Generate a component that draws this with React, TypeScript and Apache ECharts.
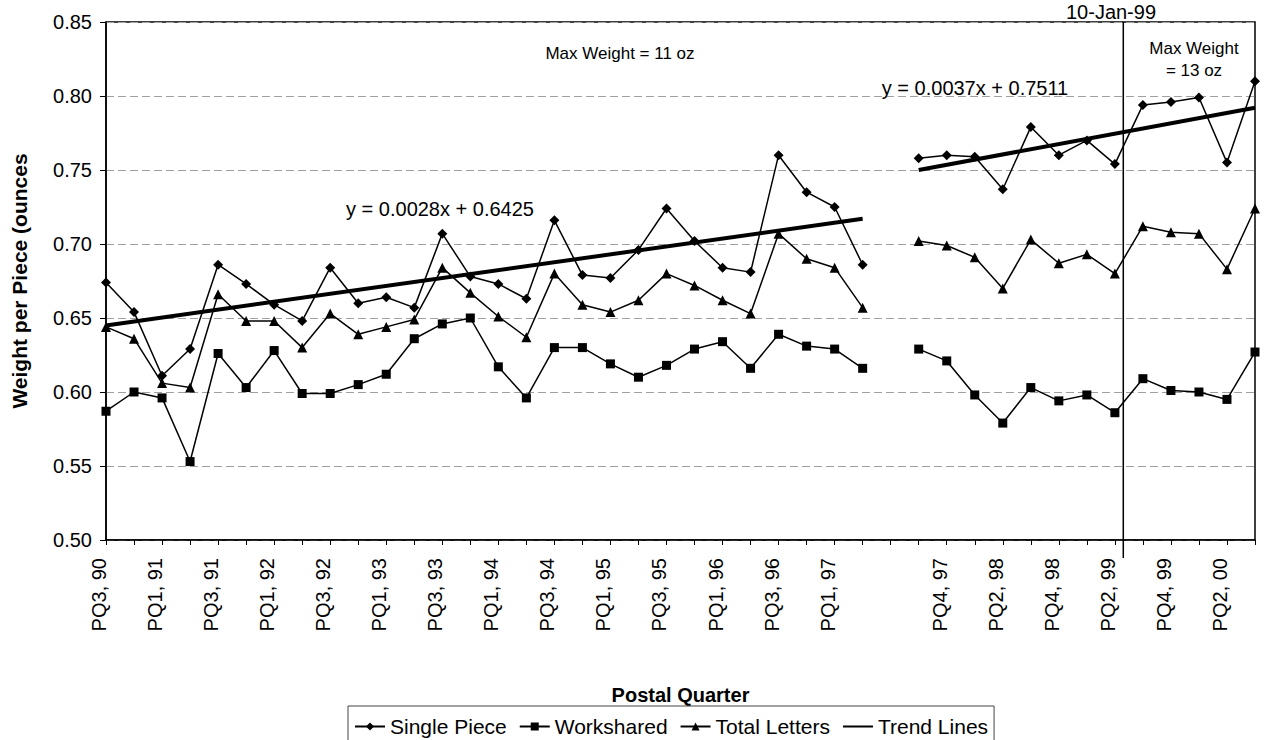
import { useEffect, useRef } from "react";
import * as echarts from "echarts";

const quarters = [
  "PQ3, 90", "PQ4, 90",
  "PQ1, 91", "PQ2, 91", "PQ3, 91", "PQ4, 91",
  "PQ1, 92", "PQ2, 92", "PQ3, 92", "PQ4, 92",
  "PQ1, 93", "PQ2, 93", "PQ3, 93", "PQ4, 93",
  "PQ1, 94", "PQ2, 94", "PQ3, 94", "PQ4, 94",
  "PQ1, 95", "PQ2, 95", "PQ3, 95", "PQ4, 95",
  "PQ1, 96", "PQ2, 96", "PQ3, 96", "PQ4, 96",
  "PQ1, 97", "PQ2, 97", "",
  "PQ3, 97", "PQ4, 97",
  "PQ1, 98", "PQ2, 98", "PQ3, 98", "PQ4, 98",
  "PQ1, 99", "PQ2, 99", "PQ3, 99", "PQ4, 99",
  "PQ1, 00", "PQ2, 00", "PQ3, 00",
];

const singlePiece = [
  0.674, 0.654, 0.611, 0.629, 0.686, 0.673, 0.659, 0.648, 0.684, 0.660,
  0.664, 0.657, 0.707, 0.678, 0.673, 0.663, 0.716, 0.679, 0.677, 0.696,
  0.724, 0.702, 0.684, 0.681, 0.760, 0.735, 0.725, 0.686, null,
  0.758, 0.760, 0.759, 0.737, 0.779, 0.760, 0.770, 0.754, 0.794, 0.796,
  0.799, 0.755, 0.810,
];

const workshared = [
  0.587, 0.600, 0.596, 0.553, 0.626, 0.603, 0.628, 0.599, 0.599, 0.605,
  0.612, 0.636, 0.646, 0.650, 0.617, 0.596, 0.630, 0.630, 0.619, 0.610,
  0.618, 0.629, 0.634, 0.616, 0.639, 0.631, 0.629, 0.616, null,
  0.629, 0.621, 0.598, 0.579, 0.603, 0.594, 0.598, 0.586, 0.609, 0.601,
  0.600, 0.595, 0.627,
];

const totalLetters = [
  0.644, 0.636, 0.606, 0.603, 0.666, 0.648, 0.648, 0.630, 0.653, 0.639,
  0.644, 0.649, 0.684, 0.667, 0.651, 0.637, 0.680, 0.659, 0.654, 0.662,
  0.680, 0.672, 0.662, 0.653, 0.707, 0.690, 0.684, 0.657, null,
  0.702, 0.699, 0.691, 0.670, 0.703, 0.687, 0.693, 0.680, 0.712, 0.708,
  0.707, 0.683, 0.724,
];

// trend line end points [category index, value]
const trendEarly = [[0, 0.645], [27, 0.717]];
const trendLate = [[29, 0.750], [41, 0.792]];

const yTicks = { min: 0.5, max: 0.85, interval: 0.05 };
const changeIndex = 36.3; // 10-Jan-99 falls about a third of the way from PQ2, 99 to PQ3, 99

const FONT = "'Liberation Sans', Arial, sans-serif";

export default function App() {
  const ref = useRef<HTMLDivElement>(null);

  useEffect(() => {
    if (!ref.current) return;
    const chart = echarts.init(ref.current, undefined, { renderer: "svg" });
    const lineStyle = { color: "#000", width: 1.5 };
    chart.setOption({
      animation: false,
      backgroundColor: "#fff",
      textStyle: { fontFamily: FONT, color: "#000" },
      grid: {
        left: 106,
        right: 13,
        top: 22,
        bottom: 200,
        show: true,
        borderColor: "#000",
        borderWidth: 1.5,
      },
      legend: {
        data: [
          "Single Piece",
          "Workshared",
          "Total Letters",
          { name: "Trend Lines", itemStyle: { opacity: 0 } },
        ],
        left: 348,
        top: 706,
        padding: [10, 6, 4, 6],
        itemWidth: 30,
        itemHeight: 10,
        itemGap: 12,
        borderColor: "#444",
        borderWidth: 1,
        textStyle: { fontSize: 21, color: "#000", fontFamily: FONT },
      },
      xAxis: {
        type: "category",
        data: quarters,
        boundaryGap: false,
        name: "Postal Quarter",
        nameLocation: "middle",
        nameGap: 145,
        nameTextStyle: { fontSize: 20, fontWeight: "bold", color: "#000" },
        axisLine: { lineStyle: { color: "#000", width: 1.5 } },
        axisTick: { interval: 0, length: 5, lineStyle: { color: "#000" } },
        axisLabel: {
          interval: 1,
          rotate: 90,
          fontSize: 20,
          color: "#000",
          margin: 18,
          verticalAlign: "bottom",
          lineHeight: 14,
        },
        splitLine: { show: false },
      },
      yAxis: {
        type: "value",
        min: yTicks.min,
        max: yTicks.max,
        interval: yTicks.interval,
        name: "Weight per Piece (ounces",
        nameLocation: "middle",
        nameRotate: 90,
        nameGap: 76,
        nameTextStyle: { fontSize: 21, fontWeight: "bold", color: "#000" },
        axisLine: { show: true, lineStyle: { color: "#000", width: 1.5 } },
        axisTick: { show: true, length: 6, lineStyle: { color: "#000" } },
        axisLabel: {
          fontSize: 20,
          color: "#000",
          margin: 14,
          formatter: (v: number) => v.toFixed(2),
        },
        splitLine: { lineStyle: { color: "#a0a0a0", type: [8, 4], width: 1 } },
      },
      series: [
        {
          name: "Single Piece",
          type: "line",
          data: singlePiece,
          symbol: "diamond",
          symbolSize: 10,
          itemStyle: { color: "#000" },
          lineStyle,
        },
        {
          name: "Workshared",
          type: "line",
          data: workshared,
          symbol: "rect",
          symbolSize: 9,
          itemStyle: { color: "#000" },
          lineStyle,
        },
        {
          name: "Total Letters",
          type: "line",
          data: totalLetters,
          symbol: "triangle",
          symbolSize: 10,
          itemStyle: { color: "#000" },
          lineStyle,
        },
        {
          name: "Trend Lines",
          type: "line",
          data: trendEarly,
          symbol: "none",
          itemStyle: { color: "#000" },
          lineStyle: { color: "#000", width: 4 },
          z: 5,
        },
        {
          name: "Trend Lines",
          type: "line",
          data: trendLate,
          symbol: "none",
          itemStyle: { color: "#000" },
          lineStyle: { color: "#000", width: 4 },
          z: 5,
        },
      ],
    });

    const xa = chart.convertToPixel({ xAxisIndex: 0 }, Math.floor(changeIndex)) as number;
    const xb = chart.convertToPixel({ xAxisIndex: 0 }, Math.floor(changeIndex) + 1) as number;
    const xv = xa + (xb - xa) * (changeIndex - Math.floor(changeIndex));
    const yTop = chart.convertToPixel({ yAxisIndex: 0 }, yTicks.max) as number;
    const yBot = chart.convertToPixel({ yAxisIndex: 0 }, yTicks.min) as number;

    const txt = (text: string, x: number, y: number, size: number) => ({
      type: "text",
      x,
      y,
      style: {
        text,
        fontSize: size,
        fontFamily: FONT,
        fill: "#000",
        textAlign: "center",
        textVerticalAlign: "middle",
      },
      z: 10,
    });

    chart.setOption({
      graphic: [
        {
          type: "line",
          shape: { x1: xv, y1: yTop, x2: xv, y2: yBot + 18 },
          style: { stroke: "#000", lineWidth: 1.5 },
          z: 10,
        },
        txt("10-Jan-99", 1111, 12, 20),
        txt("Max Weight = 11 oz", 620, 53, 17),
        txt("Max Weight", 1194, 48, 17),
        txt("= 13 oz", 1194, 70, 17),
        txt("y = 0.0028x + 0.6425", 440, 209, 20),
        txt("y = 0.0037x + 0.7511", 975, 88, 20),
      ],
    });

    return () => chart.dispose();
  }, []);

  return (
    <div
      ref={ref}
      style={{ position: "fixed", left: 0, top: 0, width: 1268, height: 740, background: "#fff" }}
    />
  );
}
